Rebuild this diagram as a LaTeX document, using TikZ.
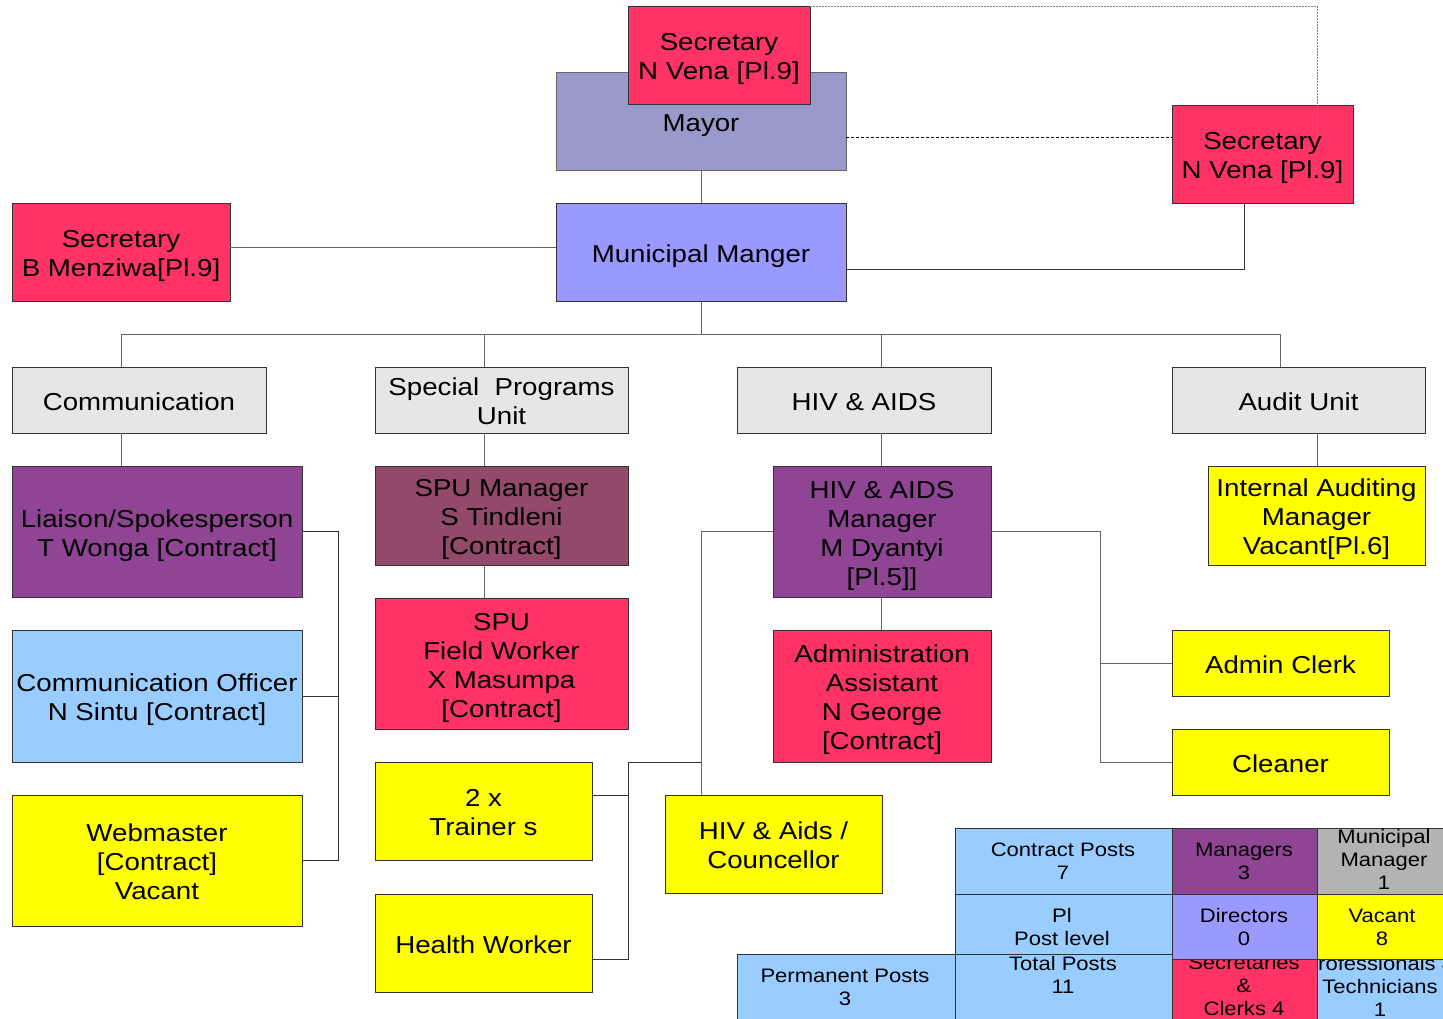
\documentclass[tikz,border=0pt]{standalone}
\usepackage{fontspec}
\setmainfont{Liberation Sans}[FakeStretch=1.13]
\definecolor{crim}{HTML}{FF3366}
\definecolor{mayorc}{HTML}{9999CC}
\definecolor{mmc}{HTML}{9999FF}
\definecolor{deptc}{HTML}{E6E6E6}
\definecolor{purp}{HTML}{8F4593}
\definecolor{spuc}{HTML}{934A6A}
\definecolor{lblue}{HTML}{99CCFF}
\definecolor{yel}{HTML}{FFFF00}
\definecolor{greyc}{HTML}{B3B3B3}
\definecolor{boxline}{HTML}{333333}
\definecolor{wirec}{HTML}{666666}
% box text with a fixed first-line height and last-line depth
\newcommand\bt[1]{\rule{0pt}{26pt}#1\rule[-6pt]{0pt}{0pt}}
\tikzset{
  box/.style={draw=boxline, line width=0.9pt, inner sep=0pt, outer sep=0pt,
    anchor=north west, align=center, font=\fontsize{24.5}{29}\selectfont},
  wire/.style={draw=wirec, line width=1pt},
  darkwire/.style={draw=boxline, line width=1pt},
  dotline/.style={draw=gray, line width=0.8pt, dash pattern=on 1.5pt off 1.5pt},
  dashline/.style={draw=black, line width=0.8pt, dash pattern=on 3pt off 2pt},
  cell/.style={draw=boxline, line width=0.9pt},
  celltext/.style={inner sep=0pt, align=center, font=\fontsize{19.5}{23}\selectfont},
}
\begin{document}
\begin{tikzpicture}[x=1pt, y=-1pt]
\useasboundingbox (0,0) rectangle (1443,1018);
\clip (0,0) rectangle (1443,1018);

% top of the hierarchy
\node[box, fill=mayorc, draw=wirec, minimum width=290, minimum height=98] (mayor) at (556,72) {\bt{Mayor}};
\node[box, fill=crim, minimum width=182, minimum height=98] (secA) at (628,6) {\bt{Secretary\\N Vena [Pl.9]}};
\node[box, fill=crim, minimum width=181, minimum height=98] (secV) at (1172,105) {\bt{Secretary\\N Vena [Pl.9]}};
\node[box, fill=crim, minimum width=218, minimum height=98] (secB) at (12,203) {\bt{Secretary\\B Menziwa[Pl.9]}};
\node[box, fill=mmc, minimum width=290, minimum height=98] (mm) at (556,203) {\bt{Municipal Manger}};

% units
\node[box, fill=deptc, minimum width=254, minimum height=66] (comm) at (12,367) {\bt{Communication}};
\node[box, fill=deptc, minimum width=253, minimum height=66] (spu) at (375,367) {\bt{Special~~Programs\\Unit}};
\node[box, fill=deptc, minimum width=254, minimum height=66] (hiv) at (737,367) {\bt{HIV \& AIDS}};
\node[box, fill=deptc, minimum width=253, minimum height=66] (audit) at (1172,367) {\bt{Audit Unit}};

% communication
\node[box, fill=purp, minimum width=290, minimum height=131] (liaison) at (12,466) {\bt{Liaison/Spokesperson\\T Wonga [Contract]}};
\node[box, fill=lblue, minimum width=290, minimum height=132] (commoff) at (12,630) {\bt{Communication Officer\\N Sintu [Contract]}};
\node[box, fill=yel, minimum width=290, minimum height=131] (web) at (12,795) {\bt{Webmaster\\{[Contract]}\\Vacant}};

% special programs
\node[box, fill=spuc, minimum width=253, minimum height=99] (spum) at (375,466) {\bt{SPU Manager\\S Tindleni\\{[Contract]}}};
\node[box, fill=crim, minimum width=253, minimum height=131] (spuf) at (375,598) {\bt{SPU\\Field Worker\\X Masumpa\\{[Contract]}}};
\node[box, fill=yel, minimum width=217, minimum height=98] (trainer) at (375,762) {\bt{2 x\\Trainer s}};
\node[box, fill=yel, minimum width=217, minimum height=98] (health) at (375,894) {\bt{Health Worker}};

% HIV & AIDS
\node[box, fill=purp, minimum width=218, minimum height=131] (hivm) at (773,466) {\bt{HIV \& AIDS\\Manager\\M Dyantyi\\{[Pl.5]]}}};
\node[box, fill=crim, minimum width=218, minimum height=132] (admin) at (773,630) {\bt{Administration\\Assistant\\N George\\{[Contract]}}};
\node[box, fill=yel, minimum width=217, minimum height=98] (counc) at (665,795) {\bt{HIV \& Aids /\\Councellor}};
\node[box, fill=yel, minimum width=217, minimum height=66] (clerk) at (1172,630) {\bt{Admin Clerk}};
\node[box, fill=yel, minimum width=217, minimum height=66] (cleaner) at (1172,729) {\bt{Cleaner}};

% audit
\node[box, fill=yel, minimum width=217, minimum height=99] (iam) at (1208,466) {\bt{Internal Auditing\\Manager\\Vacant[Pl.6]}};

% connectors
\draw[wire] (mayor.south) -- (mm.north);
\draw[wire] (secB.east |- 0,247) -- (mm.west |- 0,247);
\draw[darkwire] (secV.south -| 1244,0) |- (mm.east |- 0,269);
\coordinate (bus) at (701,334);
\draw[wire] (mm.south) -- (bus);
\draw[wire] (comm.north -| 121,0) |- (bus);
\draw[wire] (spu.north -| 484,0) |- (bus);
\draw[wire] (hiv.north -| 881,0) |- (bus);
\draw[wire] (audit.north -| 1280,0) |- (bus);
\draw[wire] (comm.south -| 121,0) -- (liaison.north -| 121,0);
\draw[wire] (spu.south -| 484,0) -- (spum.north -| 484,0);
\draw[wire] (spum.south -| 484,0) -- (spuf.north -| 484,0);
\draw[wire] (hiv.south -| 881,0) -- (hivm.north -| 881,0);
\draw[wire] (hivm.south -| 881,0) -- (admin.north -| 881,0);
\draw[wire] (audit.south -| 1317,0) -- (iam.north -| 1317,0);

\draw[darkwire] (liaison.east) -- ++(36,0) |- (web.east);
\draw[darkwire] (commoff.east) -- ++(36,0);

\draw[wire] (hivm.east) -- ++(109,0) coordinate (hr) |- (cleaner.west);
\draw[wire] (clerk.west) -- (clerk.west -| hr);
\draw[wire] (hivm.west) -| (counc.north -| 701,0);

\coordinate (tb) at (628,762);
\draw[darkwire] (trainer.east |- 0,795) -- (tb |- 0,795);
\draw[darkwire] (health.east |- 0,959) -| (tb) -- (701,762);

\draw[dotline] (secA.north east) -| (1317,137);
\draw[dashline] (mayor.east |- 0,137) -- (secV.west |- 0,137);

% summary table
\fill[lblue] (737,954) rectangle (955,1040);
\draw[cell] (737,1040) |- (955,954) -- (955,1040);
\node[celltext] (tperm) at (845,987) {Permanent Posts\\3};
\fill[lblue] (955,953) rectangle (1172,1040);
\draw[cell] (955,1040) |- (1172,953) -- (1172,1040);
\node[celltext] (ttot) at (1063,975) {Total Posts\\11};
\draw[cell, fill=lblue] (955,828) rectangle (1172,894);
\node[celltext] (tcon) at (1063,861) {Contract Posts\\7};
\draw[cell, fill=lblue] (955,894) rectangle (1172,954);
\node[celltext] (tpl) at (1062,927) {Pl\\Post level};
\fill[lblue] (1317,959) rectangle (1460,1040);
\draw[cell] (1317,1040) |- (1460,959);
\node[celltext] (tprof) at (1380,986) {Professionals \&\\Technicians\\1};
\fill[crim] (1172,959) rectangle (1317,1040);
\draw[cell] (1172,1040) |- (1317,959) -- (1317,1040);
\node[celltext] (tsec) at (1244,986) {Secretaries\\\&\\Clerks 4};
\draw[cell, fill=purp] (1172,828) rectangle (1317,894);
\node[celltext] (tman) at (1244,861) {Managers\\3};
\fill[greyc] (1317,828) rectangle (1460,894);
\draw[cell] (1460,828) -| (1317,894) -- (1460,894);
\node[celltext] (tmm) at (1384,859) {Municipal\\Manager\\1};
\draw[cell, fill=mmc] (1172,894) rectangle (1317,959);
\node[celltext] (tdir) at (1244,927) {Directors\\0};
\fill[yel] (1317,894) rectangle (1460,959);
\draw[cell] (1460,894) -| (1317,959) -- (1460,959);
\node[celltext] (tvac) at (1382,927) {Vacant\\8};
\end{tikzpicture}
\end{document}
